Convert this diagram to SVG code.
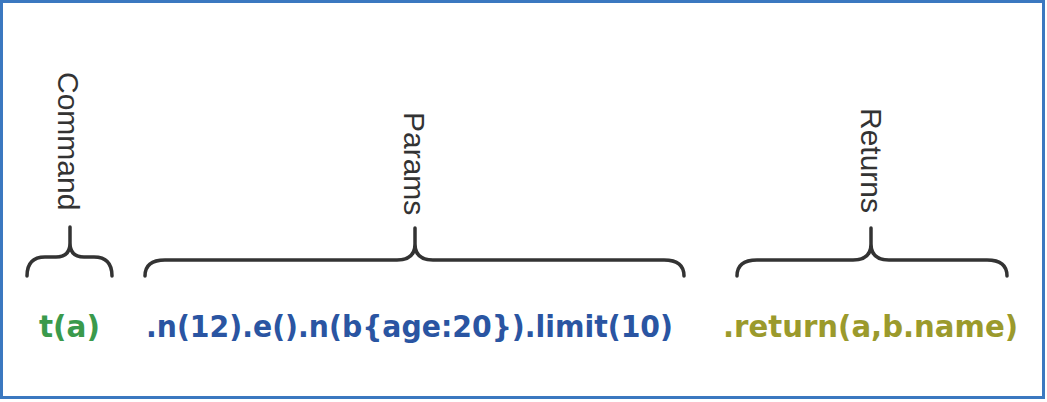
<svg xmlns="http://www.w3.org/2000/svg" width="1047" height="402" viewBox="0 0 1047 402">
<style>
.lbl{font-family:"Liberation Sans",Arial,sans-serif;font-size:30px;fill:#333}
.code{font-family:"Comic Sans MS","DejaVu Sans",sans-serif;font-weight:bold;font-size:31px}
.brace{fill:none;stroke:#333;stroke-width:3.5;stroke-linecap:round;stroke-linejoin:round}
</style>
<rect x="0" y="0" width="1047" height="402" fill="#fff"/>
<rect x="1.5" y="1.5" width="1042" height="396" fill="none" stroke="#3b78c0" stroke-width="3"/>
<g id="connectors">
<path class="brace" d="M27,276 Q27,257 45,257 L56,257 Q70,257 70,243 Q70,257 84,257 L94,257 Q112,257 112,276 M70,243 L70,227"/>
<path class="brace" d="M145,276 Q145,260 165,260 L397,260 Q415,260 415,244 Q415,260 433,260 L664,260 Q684,260 684,276 M415,244 L415,228"/>
<path class="brace" d="M737,276 Q737,260 757,260 L853,260 Q871,260 871,244 Q871,260 889,260 L987,260 Q1007,260 1007,276 M871,244 L871,228"/>
</g>
<g id="command">
<text class="lbl" transform="translate(58,72) rotate(90)">Command</text>
<text class="code" x="39" y="337" fill="#3a9a4c" textLength="61" lengthAdjust="spacingAndGlyphs">t(a)</text>
</g>
<g id="params">
<text class="lbl" transform="translate(404,112) rotate(90)">Params</text>
<text class="code" x="146" y="337" fill="#2a55a2" textLength="527" lengthAdjust="spacingAndGlyphs">.n(12).e().n(b{age:20}).limit(10)</text>
</g>
<g id="returns">
<text class="lbl" transform="translate(861,108) rotate(90)">Returns</text>
<text class="code" x="723" y="337" fill="#9b9a2c" textLength="295" lengthAdjust="spacingAndGlyphs">.return(a,b.name)</text>
</g>
</svg>
